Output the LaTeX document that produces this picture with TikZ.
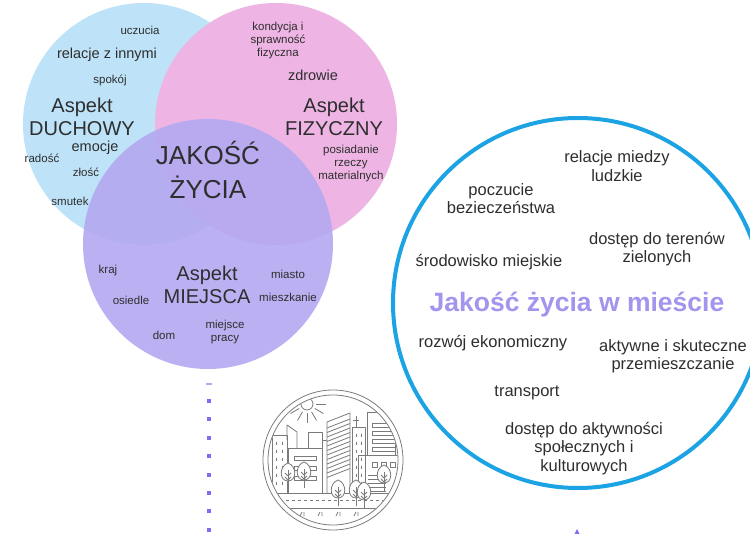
\documentclass[tikz,border=0pt]{standalone}
\usepackage{fontspec}
\setmainfont{Liberation Sans}
\usetikzlibrary{positioning}

\definecolor{ink}{HTML}{2E2E2E}
\definecolor{duchblue}{HTML}{BEE3F8}
\definecolor{fizpink}{HTML}{EDB4E4}
\definecolor{miejpurple}{HTML}{B4A9F1}
\definecolor{ringblue}{HTML}{1CA3E4}
\definecolor{titlepurple}{HTML}{A394EE}
\definecolor{dotpurple}{HTML}{7D6EF0}
\definecolor{icongray}{HTML}{7A7A7A}

\tikzset{
  word/.style={text=ink, inner sep=0pt, align=center, font=\fontsize{11.5}{13}\selectfont},
  midword/.style={word, font=\fontsize{14.5}{16}\selectfont},
  aspect/.style={word, font=\fontsize{20}{23}\selectfont},
  cityword/.style={word, font=\fontsize{16.5}{18.5}\selectfont},
  icon/.style={draw=icongray, line width=0.8pt, line join=round},
  tree/.pic={
    \draw[icon, fill=white] (0,8) .. controls (-9,8) and (-9,-7) .. (0,-10) .. controls (9,-7) and (9,8) .. (0,8);
    \draw[icon] (0,-3) -- (0,16);
    \draw[icon] (-3,0) -- (0,3) -- (3,0);
    \draw[icon] (-3,4) -- (0,7) -- (3,4);
  }
}

\begin{document}
\begin{tikzpicture}[x=1pt,y=-1pt]
  \fill[white] (0,0) rectangle (750,534);
  \useasboundingbox (0,0) rectangle (750,534);
  \clip (0,0) rectangle (750,534);

  % three aspects
  \fill[duchblue] (144,124) circle[radius=121pt];
  \fill[fizpink] (276,124) circle[radius=121pt];
  \fill[miejpurple, opacity=0.9] (208,244) circle[radius=125pt];

  \node[word] (uczucia) at (140,30) {uczucia};
  \node[midword] (relacje) at (107,55) {relacje z innymi};
  \node[word] (spokoj) at (110,80) {spokój};
  \node[aspect] (aspdu) at (82,116.5) {Aspekt\\DUCHOWY};
  \node[midword] (emocje) at (95,148) {emocje};
  \node[word] (radosc) at (42,158) {radość};
  \node[word] (zlosc) at (86,172) {złość};
  \node[word] (smutek) at (70,201) {smutek};

  \node[word] (kondycja) at (278,40.5) {kondycja i\\sprawność\\fizyczna};
  \node[midword] (zdrowie) at (313,75) {zdrowie};
  \node[aspect] (aspfiz) at (334,116.5) {Aspekt\\FIZYCZNY};
  \node[word] (posiadanie) at (351,164) {posiadanie\\rzeczy\\materialnych};

  \node[word, font=\fontsize{26}{34}\selectfont] (jakosc) at (208,170) {JAKOŚĆ\\ŻYCIA};

  \node[word] (kraj) at (108,271) {kraj};
  \node[aspect] (aspmiej) at (207,285) {Aspekt\\MIEJSCA};
  \node[word] (miasto) at (288,274) {miasto};
  \node[word] (osiedle) at (131,300) {osiedle};
  \node[word] (mieszkanie) at (288,297) {mieszkanie};
  \node[word] (dom) at (164,335) {dom};
  \node[word] (miejsce) at (225,332.5) {miejsce\\pracy};

  % city circle
  \draw[ringblue, line width=4pt] (578,303) circle[radius=185pt];

  \node[cityword] (miedzy) at (617,166) {relacje miedzy\\ludzkie};
  \node[cityword] (poczucie) at (501,198.5) {poczucie\\bezieczeństwa};
  \node[cityword] (tereny) at (657,249) {dostęp do terenów\\zielonych};
  \node[cityword] (srodowisko) at (489,262) {środowisko miejskie};
  \node[word, text=titlepurple, font=\fontsize{26.5}{30}\selectfont\bfseries] (tytul) at (577,305) {Jakość życia w mieście};
  \node[cityword] (rozwoj) at (493,343) {rozwój ekonomiczny};
  \node[cityword] (aktywne) at (673,356) {aktywne i skuteczne\\przemieszczanie};
  \node[cityword] (transport) at (527,393) {transport};
  \node[cityword] (dostep) at (584,448.5) {dostęp do aktywności\\społecznych i\\kulturowych};

  % dotted line and arrow tip
  \fill[dotpurple!60] (206,383) rectangle (212,385);
  \foreach \i in {0,...,7}
    \fill[dotpurple] (207,{399+18.4*\i}) rectangle (211,{403+18.4*\i});
  \fill[dotpurple] (573,537) -- (577,529) -- (581,537) -- cycle;

  % city icon
  \draw[icon] (333,460) circle[radius=70pt];
  \draw[icon] (333,460) circle[radius=65pt];
  \begin{scope}
    \clip (333,460) circle[radius=64.5pt];
    % sun
    \draw[icon] (307,404) circle[radius=6pt];
    \foreach \a in {0,30,...,180}
      \draw[icon] (307,404) ++(\a:9) -- ++(\a:10);
    % left buildings
    \draw[icon] (272,493) -- (272,435) -- (287,435) -- (287,493);
    \foreach \y in {442,450,...,486} {
      \draw[icon] (276,\y) -- (276,\y+3);
      \draw[icon] (282,\y) -- (282,\y+3);
    }
    \draw[icon] (287,440) -- (287,425) -- (297,432) -- (297,448);
    \draw[icon] (308,448) -- (308,432) -- (322,432) -- (322,448);
    \draw[icon] (288,493) -- (288,448) -- (322,448) -- (322,493);
    \foreach \y in {456,466,476}
      \draw[icon] (294,\y) rectangle (316,\y+4);
    \draw[icon] (322,440) -- (327,440);
    % slanted tower
    \draw[icon] (327,493) -- (327,422) -- (350,413) -- (350,493);
    \foreach \k in {0,...,11}
      \draw[icon] (327,{428+4.5*\k}) -- (350,{419+4.5*\k});
    % antenna block
    \draw[icon] (352,493) -- (352,427) -- (365,427) -- (365,493);
    \draw[icon] (356,427) -- (356,416);
    \draw[icon] (353,420) -- (359,420);
    \foreach \y in {434,442,...,482} {
      \draw[icon] (356,\y) -- (356,\y+3);
      \draw[icon] (361,\y) -- (361,\y+3);
    }
    % right tower
    \draw[icon] (367,455) -- (367,412) -- (383,412) -- (383,418) -- (395,418) -- (395,455);
    \foreach \y in {423,431,...,447}
      \draw[icon] (372,\y) rectangle (395,\y+4);
    % right low block
    \draw[icon] (358,493) -- (358,455) -- (400,455);
    \foreach \x in {372,381,390}
      \draw[icon] (\x,462) rectangle (\x+5,467);
    \foreach \y in {475,479,...,491}
      \draw[icon] (368,\y) -- (386,\y);
    % road
    \draw[icon] (262,493) -- (404,493);
    \draw[icon, dashed] (262,500) -- (404,500);
    \draw[icon] (262,508) -- (404,508);
    \foreach \x in {300,318,336,354,372}
      \draw[icon] (\x,516) -- (\x+2,512) (\x+4,516) -- (\x+4,512);
    % trees
    \pic at (288,473) {tree};
    \pic at (304,472) {tree};
    \pic at (338,490) {tree};
    \pic at (356,490) {tree};
    \pic at (364,492) {tree};
    \pic at (384,475) {tree};
  \end{scope}
\end{tikzpicture}
\end{document}
